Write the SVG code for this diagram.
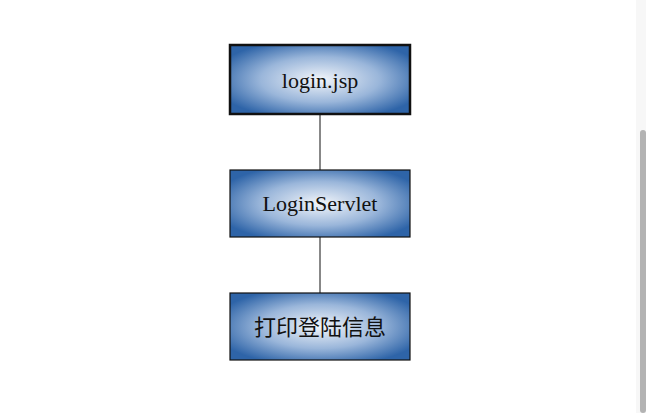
<svg xmlns="http://www.w3.org/2000/svg" width="646" height="413" viewBox="0 0 646 413">
<defs>
<radialGradient id="g" cx="50%" cy="50%" r="60%">
<stop offset="0" stop-color="#f2f5fa"/>
<stop offset="0.55" stop-color="#9ab6da"/>
<stop offset="1" stop-color="#2e64a8"/>
</radialGradient>
<style>
.b{fill:url(#g);stroke:#111;stroke-width:1.2}
.t{font-family:"Liberation Serif","Noto Sans CJK SC",serif;font-size:22px;fill:#111;text-anchor:middle}
.c{stroke:#111;stroke-width:1;fill:none}
</style>
</defs>
<rect width="646" height="413" fill="#fff"/>
<rect x="636" y="0" width="10" height="413" fill="#f7f7f7"/>
<rect x="640" y="130" width="6" height="283" rx="3" fill="#b3b3b3"/>
<g id="connectors">
<line class="c" x1="320" y1="114" x2="320" y2="170"/>
<line class="c" x1="320" y1="237" x2="320" y2="293"/>
</g>
<g id="n1"><rect class="b" x="230" y="45" width="180" height="69" style="stroke-width:2.5"/><text class="t" x="320" y="88">login.jsp</text></g>
<g id="n2"><rect class="b" x="230" y="170" width="180" height="67"/><text class="t" x="320" y="211">LoginServlet</text></g>
<g id="n3"><rect class="b" x="230" y="293" width="180" height="67"/><text class="t" x="320" y="335">打印登陆信息</text></g>
</svg>
